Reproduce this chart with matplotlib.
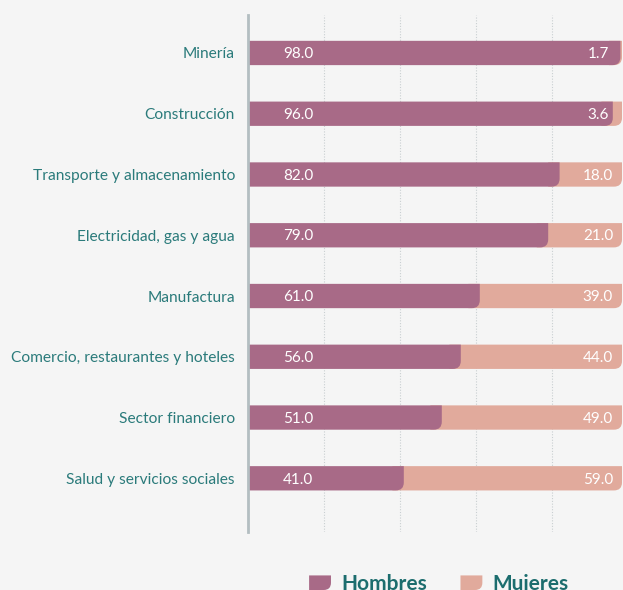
import matplotlib
matplotlib.use("Agg")
import matplotlib.pyplot as plt
from matplotlib.path import Path
from matplotlib.patches import PathPatch, Rectangle
from matplotlib.legend_handler import HandlerPatch

categories = ["Minería", "Construcción", "Transporte y almacenamiento",
              "Electricidad, gas y agua", "Manufactura",
              "Comercio, restaurantes y hoteles", "Sector financiero",
              "Salud y servicios sociales"]
hombres = [98.0, 96.0, 82.0, 79.0, 61.0, 56.0, 51.0, 41.0]
mujeres = [1.7, 3.6, 18.0, 21.0, 39.0, 44.0, 49.0, 59.0]
series_names = ["Hombres", "Mujeres"]
grid_ticks = [0, 20, 40, 60, 80]

C_H = "#a86a87"
C_M = "#e1aa9c"
BG = "#f5f5f5"
TEAL = "#2b7b7b"
TEAL_D = "#1c6d6e"

plt.rcParams['font.family'] = ['Lato', 'DejaVu Sans']

W, H = 623, 590
fig = plt.figure(figsize=(W / 100, H / 100), dpi=100, facecolor=BG)
ax_l, ax_r, ax_t, ax_b = 248, 622, 15, 531.7
ax = fig.add_axes([ax_l / W, 1 - ax_b / H, (ax_r - ax_l) / W, (ax_b - ax_t) / H])
ax.set_facecolor(BG)

XMAX = (ax_r - ax_l) / 3.8
ax.set_xticks(grid_ticks)
ax.set_xlim(0, XMAX)
ax.set_ylim(7.879, -0.625)

fig.canvas.draw()
p0 = ax.transData.transform((0, 0))
p1 = ax.transData.transform((1, 1))
pxx = abs(p1[0] - p0[0])
pxy = abs(p1[1] - p0[1])

BAR_H = 0.40
R_PX = 8


def rounded_bar(x0, x1, yc, color, z):
    x1 = min(x1, XMAX)
    w = x1 - x0
    if w <= 0:
        return
    r_px = min(R_PX, w * pxx, BAR_H * pxy / 2)
    rx = r_px / pxx
    ry = r_px / pxy
    yt = yc - BAR_H / 2
    yb = yc + BAR_H / 2
    verts = [(x0, yt), (x1, yt), (x1, yb - ry), (x1, yb), (x1 - rx, yb),
             (x0, yb), (x0, yt)]
    codes = [Path.MOVETO, Path.LINETO, Path.LINETO, Path.CURVE3, Path.CURVE3,
             Path.LINETO, Path.CLOSEPOLY]
    ax.add_patch(PathPatch(Path(verts, codes), facecolor=color,
                           edgecolor='none', zorder=z))


for i, (h, m) in enumerate(zip(hombres, mujeres)):
    rounded_bar(max(h - 3, 0), h + m, i, C_M, 2)
    rounded_bar(0, h, i, C_H, 3)
    ax.text(13.2, i + 0.02, f"{h:.1f}", color="white", fontsize=11,
            ha="center", va="center", zorder=5)
    ax.text(92.1, i + 0.02, f"{m:.1f}", color="white", fontsize=11,
            ha="center", va="center", zorder=5)

ax.set_yticks(range(len(categories)))
ax.set_yticklabels(categories, fontsize=11.2, color=TEAL)
ax.tick_params(axis='y', length=0, pad=9.4)
ax.tick_params(axis='x', length=0, labelbottom=False)
ax.grid(axis='x', color="#c9cfd1", linestyle=(0, (1, 1.5)), linewidth=0.8, zorder=0)
ax.set_axisbelow(True)
for s in ["top", "right", "bottom"]:
    ax.spines[s].set_visible(False)
ax.spines["left"].set_color("#b3bec1")
ax.spines["left"].set_linewidth(2)
ax.spines["left"].set_zorder(6)


class RoundHandler(HandlerPatch):
    def create_artists(self, legend, orig_handle, xdescent, ydescent,
                       width, height, fontsize, trans):
        x0, y0 = -xdescent, -ydescent
        x1, y1 = x0 + width, y0 + height
        r = min(6, height / 2)
        verts = [(x0, y1), (x1, y1), (x1, y0 + r), (x1, y0), (x1 - r, y0),
                 (x0, y0), (x0, y1)]
        codes = [Path.MOVETO, Path.LINETO, Path.LINETO, Path.CURVE3,
                 Path.CURVE3, Path.LINETO, Path.CLOSEPOLY]
        p = PathPatch(Path(verts, codes), facecolor=orig_handle.get_facecolor(),
                      edgecolor='none', transform=trans)
        return [p]


handles = [Rectangle((0, 0), 1, 1, facecolor=C_H),
           Rectangle((0, 0), 1, 1, facecolor=C_M)]
leg = fig.legend(handles, series_names, loc="center",
                 bbox_to_anchor=(439 / W, 1 - 584 / H), ncol=2, frameon=False,
                 handler_map={Rectangle: RoundHandler()},
                 prop={'family': ['Lato', 'DejaVu Sans'], 'weight': 'bold', 'size': 15},
                 handlelength=1.05, handleheight=0.7, handletextpad=0.5,
                 columnspacing=1.6)
for t in leg.get_texts():
    t.set_color(TEAL_D)

fig.savefig("out.png", dpi=100, facecolor=BG)
